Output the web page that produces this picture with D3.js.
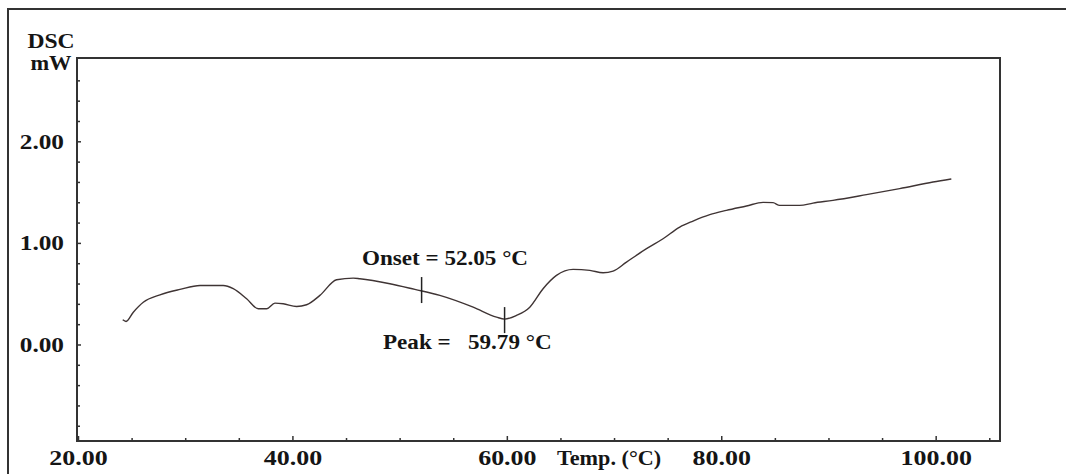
<!DOCTYPE html>
<html>
<head>
<meta charset="utf-8">
<script src="https://cdn.jsdelivr.net/npm/d3@7/dist/d3.min.js"></script>
<style>
  html, body { margin: 0; padding: 0; background: #fff; }
  svg { display: block; }
  text { font-family: "Liberation Serif", "Times New Roman", serif; font-weight: bold; fill: #151515; }
</style>
</head>
<body>
<svg id="chart" width="1066" height="474"></svg>
<script>
// DSC thermogram: heat flow (mW) against temperature (°C)
const temps = [24.17, 24.48, 25.16, 26.09, 27.65, 29.51, 31.38, 33.55, 34.48, 35.73,
  36.81, 37.59, 38.37, 39.14, 40.39, 41.32, 42.56, 44.12, 45.67, 46.29,
  49.09, 51.42, 53.75, 56.86, 59.04, 59.79, 60.90, 62.14, 63.38, 64.63,
  66.18, 67.74, 68.98, 69.91, 71.16, 73.03, 74.57, 76.13, 77.37, 78.93,
  80.48, 82.35, 83.90, 84.83, 85.45, 87.32, 88.56, 90.42, 93.54, 96.64,
  99.75, 101.46];
const dsc = [0.243, 0.227, 0.318, 0.416, 0.489, 0.542, 0.581, 0.581, 0.549, 0.450,
  0.352, 0.352, 0.407, 0.401, 0.374, 0.391, 0.483, 0.637, 0.653, 0.647,
  0.598, 0.542, 0.483, 0.367, 0.269, 0.250, 0.286, 0.367, 0.549, 0.680,
  0.739, 0.729, 0.706, 0.722, 0.811, 0.943, 1.041, 1.156, 1.215, 1.278,
  1.320, 1.363, 1.399, 1.396, 1.369, 1.369, 1.392, 1.419, 1.475, 1.534,
  1.599, 1.629];

const xMajorTicks = [20, 40, 60, 80, 100];
const xMinorTicks = [25, 30, 35, 45, 50, 55, 65, 70, 75, 85, 90, 95, 105];
const yMajorTicks = [0, 1, 2];
const yMinorTicks = [-0.8, -0.6, -0.4, -0.2, 0.2, 0.4, 0.6, 0.8, 1.2, 1.4, 1.6, 1.8, 2.2, 2.4, 2.6];

// Characteristic temperatures marked on the curve
const markerLabels = ["Onset", "Peak"];
const markerTemps = [52.05, 59.79];

const svg = d3.select("#chart");
const plotLeft = 77, plotRight = 1000, plotTop = 58, plotBottom = 441;

const x = d3.scaleLinear().domain([20, 106]).range([plotLeft + 1, plotRight]);
const y = d3.scaleLinear().domain([-0.95, 2.82]).range([plotBottom, plotTop]);

// Wide bold serif lettering: text is stretched horizontally about its anchor
function label(px, py, str, size, sx, anchor) {
  svg.append("g").attr("transform", `translate(${px},${py}) scale(${sx},1)`)
    .append("text")
    .attr("text-anchor", anchor || "start")
    .attr("font-size", size)
    .attr("xml:space", "preserve")
    .text(str);
}

// Outer frame (runs past the right and bottom edges)
svg.append("path")
  .attr("d", `M8,480 L8,9 L1070,9`)
  .attr("fill", "none").attr("stroke", "#333").attr("stroke-width", 2);

// Plot frame
svg.append("rect")
  .attr("x", plotLeft).attr("y", plotTop)
  .attr("width", plotRight - plotLeft).attr("height", plotBottom - plotTop)
  .attr("fill", "none").attr("stroke", "#333").attr("stroke-width", 2);

// X ticks pointing into the plot
const xTickG = svg.append("g").attr("transform", `translate(0,${plotBottom})`);
xTickG.call(d3.axisBottom(x).tickValues(xMajorTicks).tickSize(-5).tickFormat(""));
xTickG.append("g").call(d3.axisBottom(x).tickValues(xMinorTicks).tickSize(-3).tickFormat(""));
xTickG.selectAll(".domain").remove();
xTickG.selectAll("line").attr("stroke", "#333").attr("stroke-width", 1.5);

// Y ticks pointing into the plot
const yTickG = svg.append("g").attr("transform", `translate(${plotLeft},0)`);
yTickG.call(d3.axisLeft(y).tickValues(yMajorTicks).tickSize(-4).tickFormat(""));
yTickG.append("g").call(d3.axisLeft(y).tickValues(yMinorTicks).tickSize(-3).tickFormat(""));
yTickG.selectAll(".domain").remove();
yTickG.selectAll("line").attr("stroke", "#333").attr("stroke-width", 1.5);

// Tick labels
const xLab = svg.append("g").attr("transform", `translate(0,${plotBottom})`)
  .call(d3.axisBottom(x).tickValues(xMajorTicks).tickSize(0).tickPadding(0).tickFormat(d3.format(".2f")));
xLab.select(".domain").remove();
xLab.selectAll("text")
  .attr("font-size", 22).attr("font-family", null).attr("fill", null)
  .attr("dy", null).attr("y", 24)
  .attr("transform", "scale(1.18,1)");

const yLab = svg.append("g").attr("transform", `translate(${plotLeft - 13},0)`)
  .call(d3.axisLeft(y).tickValues(yMajorTicks).tickSize(0).tickPadding(0).tickFormat(d3.format(".2f")));
yLab.select(".domain").remove();
yLab.selectAll("text")
  .attr("font-size", 22).attr("font-family", null).attr("fill", null)
  .attr("transform", "scale(1.15,1)");

// Axis titles
label(51, 48, "DSC", 20, 1.18, "middle");
label(51, 70, "mW", 20, 1.12, "middle");
label(557, 465, "Temp. (°C)", 20, 1.11);

// Curve
const line = d3.line().x((d, i) => x(temps[i])).y(d => y(d)).curve(d3.curveMonotoneX);
svg.append("path").datum(dsc)
  .attr("d", line)
  .attr("fill", "none").attr("stroke", "#3f3434").attr("stroke-width", 1.4)
  .attr("stroke-linejoin", "round");

// Onset / peak markers
const valueAt = t => {
  const i = d3.bisectLeft(temps, t);
  if (i <= 0) return dsc[0];
  const t0 = temps[i - 1], t1 = temps[i];
  return dsc[i - 1] + (dsc[i] - dsc[i - 1]) * (t - t0) / (t1 - t0);
};
const fmt = d3.format(".2f");
markerTemps.forEach((t, k) => {
  const cx = x(t), cy = y(valueAt(t));
  const up = k === 0 ? 14 : 12, down = k === 0 ? 12 : 14;
  svg.append("line")
    .attr("x1", cx).attr("x2", cx).attr("y1", cy - up).attr("y2", cy + down)
    .attr("stroke", "#222").attr("stroke-width", 1.5);
});
label(362, 265, `${markerLabels[0]} = ${fmt(markerTemps[0])} °C`, 21, 1.1);
label(383, 349, `${markerLabels[1]} =   ${fmt(markerTemps[1])} °C`, 21, 1.1);
</script>
</body>
</html>
